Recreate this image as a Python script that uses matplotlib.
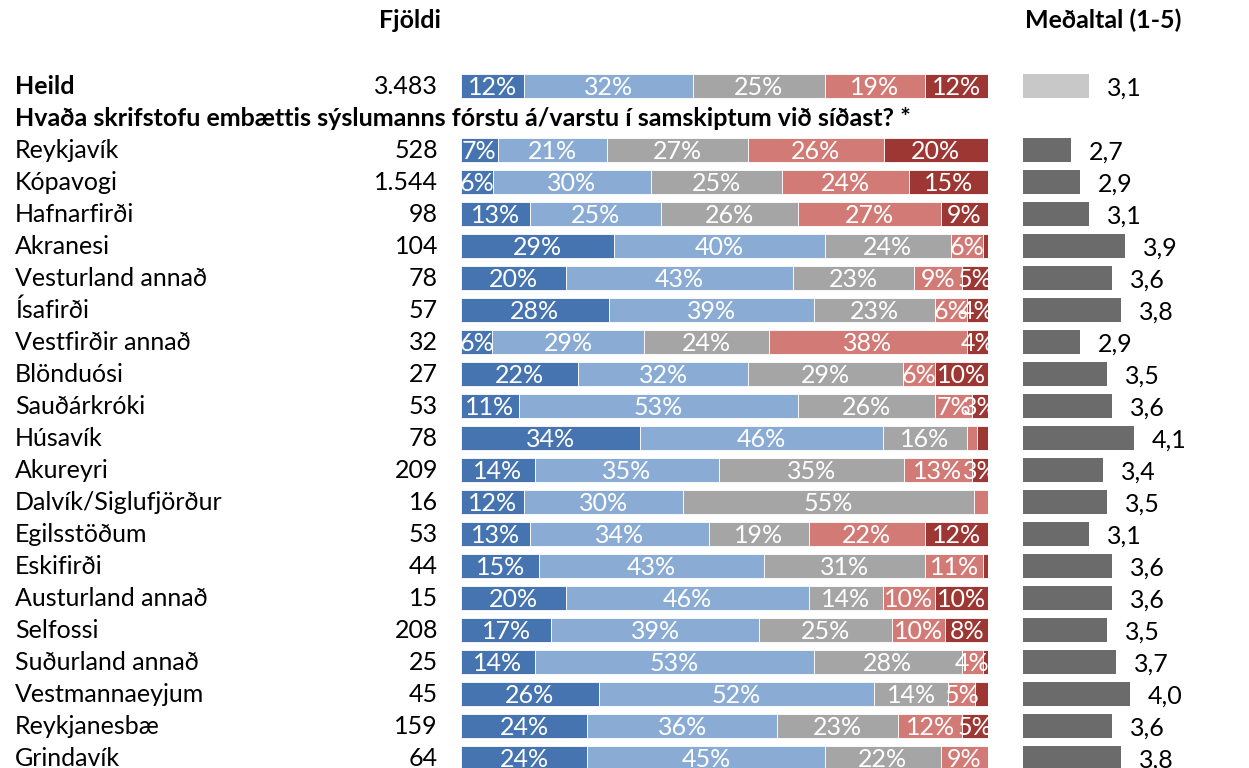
import numpy as np
import matplotlib
matplotlib.use("Agg")
import matplotlib.pyplot as plt
from matplotlib import transforms

plt.rcParams['font.family'] = ['Lato', 'DejaVu Sans']

# %% Data
heild_label = 'Heild'
heild_count = '3.483'
question = 'Hvaða skrifstofu embættis sýslumanns fórstu á/varstu í samskiptum við síðast? *'

regions = ['Reykjavík', 'Kópavogi', 'Hafnarfirði', 'Akranesi', 'Vesturland annað',
           'Ísafirði', 'Vestfirðir annað', 'Blönduósi', 'Sauðárkróki', 'Húsavík',
           'Akureyri', 'Dalvík/Siglufjörður', 'Egilsstöðum', 'Eskifirði',
           'Austurland annað', 'Selfossi', 'Suðurland annað', 'Vestmannaeyjum',
           'Reykjanesbæ', 'Grindavík']
counts = ['528', '1.544', '98', '104', '78', '57', '32', '27', '53', '78',
          '209', '16', '53', '44', '15', '208', '25', '45', '159', '64']

# shares (%), first value is Heild, then the regions in order
share_1 = [12, 7, 6, 13, 29, 20, 28, 6, 22, 11, 34, 14, 12, 13, 15, 20, 17, 14, 26, 24, 24]
share_2 = [32, 21, 30, 25, 40, 43, 39, 29, 32, 53, 46, 35, 30, 34, 43, 46, 39, 53, 52, 36, 45]
share_3 = [25, 27, 25, 26, 24, 23, 23, 24, 29, 26, 16, 35, 55, 19, 31, 14, 25, 28, 14, 23, 22]
share_4 = [19, 26, 24, 27, 6, 9, 6, 38, 6, 7, 2, 13, 2.7, 22, 11, 10, 10, 4, 5, 12, 9]
share_5 = [12, 20, 15, 9, 1, 5, 4, 4, 10, 3, 2, 3, 0, 12, 1, 10, 8, 1, 2.5, 5, 0]

means = [3.1, 2.7, 2.9, 3.1, 3.9, 3.6, 3.8, 2.9, 3.5, 3.6, 4.1,
         3.4, 3.5, 3.1, 3.6, 3.6, 3.5, 3.7, 4.0, 3.6, 3.8]

colors = ['#4674B0', '#8AACD4', '#A5A5A5', '#D17A76', '#9C3734']

# %% Layout
W, H = 1249, 768
fs = 18
fig = plt.figure(figsize=(W / 100, H / 100), dpi=100)

# row positions: Heild at 0, question at 1, regions from 2
y_heild = 0
y_regions = np.arange(len(regions)) + 2
ylim = ((H - 86) / 32, -86 / 32)

ax = fig.add_axes([461 / W, 0, 527 / W, 1])
ax.set_xlim(0, 100)
ax.set_ylim(*ylim)
ax.axis('off')

axm = fig.add_axes([1023 / W, 0, (W - 1023) / W, 1])
axm.set_xlim(1.63, 1.63 + (W - 1023) / 45)
axm.set_ylim(*ylim)
axm.axis('off')

shares = np.array([share_1, share_2, share_3, share_4, share_5], dtype=float)
shares = shares / shares.sum(axis=0) * 100
ypos = np.concatenate([[y_heild], y_regions])

left = np.zeros(len(ypos))
for k in range(5):
    ax.barh(ypos, shares[k], left=left, height=0.76, color=colors[k],
            edgecolor='white', linewidth=0.6)
    raw = [share_1, share_2, share_3, share_4, share_5][k]
    for i, y in enumerate(ypos):
        if raw[i] >= 2.8:
            ax.text(left[i] + shares[k][i] / 2, y + 0.04, f'{raw[i]:.0f}%',
                    ha='center', va='center', color='white', fontsize=fs)
    left += shares[k]

# mean bars
mcolors = ['#C8C8C8'] + ['#6B6B6B'] * len(regions)
axm.barh(ypos, means, height=0.76, color=mcolors, left=0)
for y, m in zip(ypos, means):
    axm.annotate(f'{m:.1f}'.replace('.', ','), (m, y + 0.06), xytext=(13, 0),
                 textcoords='offset points', ha='left', va='center', fontsize=fs)

# texts on the left
tr = transforms.blended_transform_factory(fig.transFigure, ax.transData)
fig.text(15 / W, y_heild, heild_label, transform=tr, va='center', fontsize=fs,
         fontweight='bold')
fig.text(438 / W, y_heild, heild_count, transform=tr, va='center', ha='right', fontsize=fs)
fig.text(15 / W, 1, question, transform=tr, va='center', fontsize=fs, fontweight='bold')
for name, n, y in zip(regions, counts, y_regions):
    fig.text(15 / W, y, name, transform=tr, va='center', fontsize=fs)
    fig.text(438 / W, y, n, transform=tr, va='center', ha='right', fontsize=fs)

fig.text(410 / W, (86 - 20) / -32, 'Fjöldi', transform=tr, va='center', ha='center',
         fontsize=fs, fontweight='bold')
fig.text(1103 / W, (86 - 20) / -32, 'Meðaltal (1-5)', transform=tr, va='center',
         ha='center', fontsize=fs, fontweight='bold')

fig.savefig('out.png', dpi=100)
